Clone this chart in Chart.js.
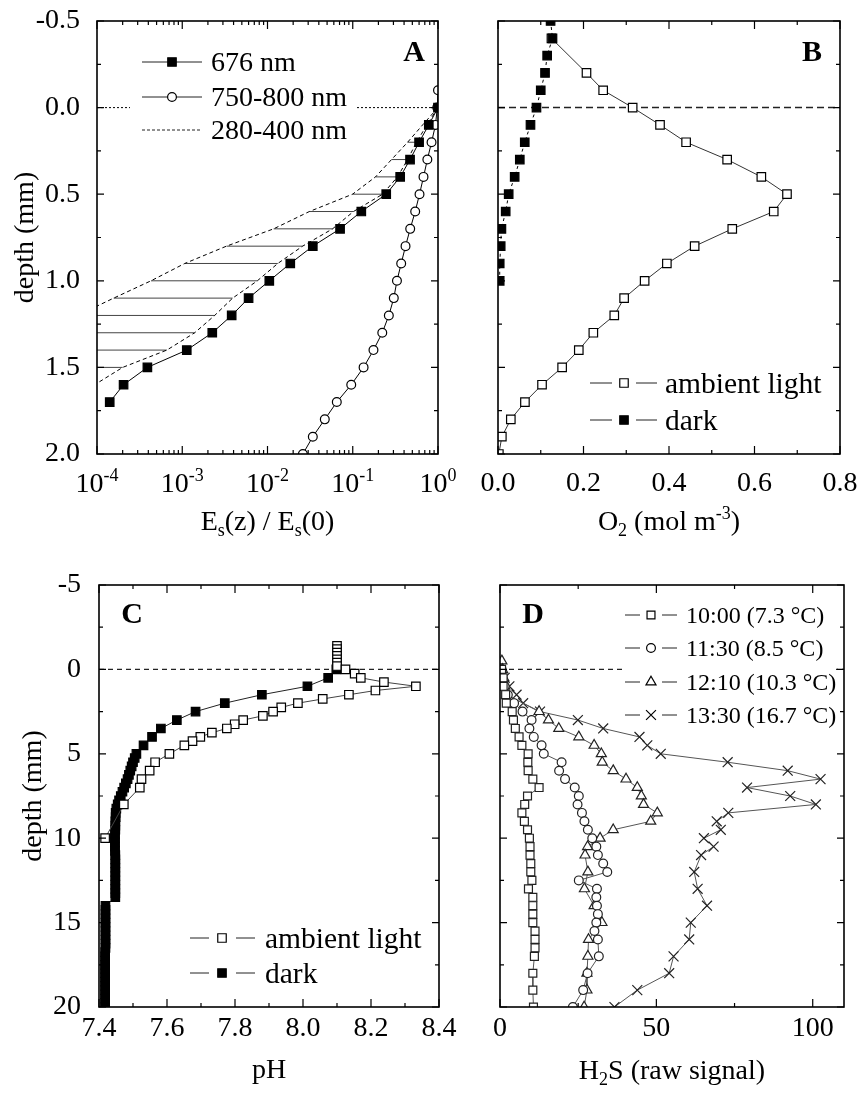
<!DOCTYPE html>
<html>
<head>
<meta charset="utf-8">
<script src="https://cdn.jsdelivr.net/npm/chart.js@4/dist/chart.umd.min.js"></script>
<style>
  html, body { margin: 0; background: #fff; }
  #fig { position: relative; width: 859px; height: 1102px; }
  #fig canvas { position: absolute; }
</style>
</head>
<body>
<div id="fig">
  <canvas id="cA" width="460" height="560" style="left:0;top:0"></canvas>
  <canvas id="cB" width="399" height="560" style="left:460px;top:0"></canvas>
  <canvas id="cC" width="460" height="542" style="left:0;top:560px"></canvas>
  <canvas id="cD" width="399" height="542" style="left:460px;top:560px"></canvas>
</div>
<script>
// ── A: spectral scalar irradiance, Es(z)/Es(0) ─────────────
const labelsA = ['676 nm', '750-800 nm', '280-400 nm'];
const depthA676 = [0.0, 0.1, 0.2, 0.3, 0.4, 0.5, 0.6, 0.7, 0.8, 0.9, 1.0, 1.1, 1.2, 1.3, 1.4, 1.5, 1.6, 1.7];
const es676 = [1.0, 0.78, 0.60, 0.47, 0.36, 0.247, 0.126, 0.071, 0.034, 0.0185, 0.0105, 0.0060, 0.0038, 0.00225, 0.00113, 0.00039, 0.000205, 0.000141];
const depthA750 = [-0.1, 0.0, 0.1, 0.2, 0.3, 0.4, 0.5, 0.6, 0.7, 0.8, 0.9, 1.0, 1.1, 1.2, 1.3, 1.4, 1.5, 1.6, 1.7, 1.8, 1.9, 2.0];
const es750 = [1.0, 0.98, 0.935, 0.84, 0.75, 0.676, 0.607, 0.54, 0.472, 0.416, 0.37, 0.33, 0.303, 0.265, 0.222, 0.175, 0.134, 0.096, 0.065, 0.047, 0.034, 0.026];
// UV band: two dashed edges, hatched between them
const depthUV = [0.0, 0.1, 0.2, 0.3, 0.4, 0.5, 0.6, 0.7, 0.8, 0.9, 1.0, 1.1, 1.2, 1.3, 1.4, 1.5, 1.6];
const uvShort = [1.0, 0.66, 0.44, 0.285, 0.185, 0.0995, 0.031, 0.0118, 0.0033, 0.00107, 0.00043, 0.000157, 0.000059, 0.000022, 0.000008, 0.000003, 0.000001];
const uvLong = [1.0, 0.74, 0.56, 0.44, 0.335, 0.224, 0.102, 0.058, 0.0258, 0.0132, 0.0076, 0.0039, 0.0024, 0.0014, 0.00066, 0.0002, 0.000094];
const HATCH_FROM = 2, HATCH_TO = 15;
const xMajorA = [1e-4, 1e-3, 1e-2, 1e-1, 1];
const yMajorAB = [-0.5, 0.0, 0.5, 1.0, 1.5, 2.0];
const yMinorAB = [-0.25, 0.25, 0.75, 1.25, 1.75];

// ── B: O2 ──────────────────────────────────────────────────
const labelsB = ['ambient light', 'dark'];
const depthBlight = [-0.4, -0.2, -0.1, 0.0, 0.1, 0.2, 0.3, 0.4, 0.5, 0.6, 0.7, 0.8, 0.9, 1.0, 1.1, 1.2, 1.3, 1.4, 1.5, 1.6, 1.7, 1.8, 1.9, 2.0];
const o2Light = [0.125, 0.207, 0.246, 0.315, 0.379, 0.440, 0.536, 0.616, 0.676, 0.645, 0.548, 0.460, 0.395, 0.343, 0.295, 0.272, 0.223, 0.189, 0.150, 0.103, 0.063, 0.030, 0.009, 0.002];
const depthBdark = [-0.5, -0.4, -0.3, -0.2, -0.1, 0.0, 0.1, 0.2, 0.3, 0.4, 0.5, 0.6, 0.7, 0.8, 0.9, 1.0];
const o2Dark = [0.123, 0.1275, 0.115, 0.110, 0.100, 0.090, 0.076, 0.0626, 0.051, 0.039, 0.025, 0.018, 0.008, 0.0063, 0.004, 0.004];
const xMajorB = [0, 0.2, 0.4, 0.6, 0.8];
const xMinorB = [0.1, 0.3, 0.5, 0.7];

// ── C: pH ──────────────────────────────────────────────────
const labelsC = ['ambient light', 'dark'];
const depthClight = [-1.4, -1.2, -1.0, -0.8, -0.6, -0.4, -0.2, 0.0, 0.25, 0.5, 0.75, 1.0, 1.25, 1.5, 1.75, 2.0, 2.25, 2.5, 2.75, 3.0, 3.25, 3.5, 3.75, 4.0, 4.25, 4.5, 5.0, 5.5, 6.0, 6.5, 7.0, 8.0, 10.0];
const phLight = [8.10, 8.10, 8.10, 8.10, 8.10, 8.10, 8.10, 8.125, 8.152, 8.17, 8.238, 8.332, 8.213, 8.135, 8.058, 7.985, 7.936, 7.912, 7.882, 7.824, 7.799, 7.776, 7.732, 7.698, 7.675, 7.651, 7.607, 7.565, 7.549, 7.525, 7.52, 7.473, 7.418];
const depthCdark = [0, 0.5, 1.0, 1.5, 2.0, 2.5, 3.0, 3.5, 4.0, 4.5,
  5.0, 5.25, 5.5, 5.75, 6.0, 6.25, 6.5, 6.75, 7.0, 7.25, 7.5, 7.75, 8.0,
  8.25, 8.5, 8.75, 9.0, 9.25, 9.5, 9.75, 10.0, 10.25, 10.5, 10.75, 11.0, 11.25, 11.5, 11.75, 12.0, 12.25, 12.5, 12.75, 13.0, 13.25, 13.5,
  14.0, 14.25, 14.5, 14.75, 15.0, 15.25, 15.5, 15.75, 16.0, 16.25, 16.5, 16.75, 17.0, 17.25, 17.5, 17.75, 18.0, 18.25, 18.5, 18.75, 19.0, 19.25, 19.5, 19.75, 20.0];
const phDark = [8.098, 8.074, 8.013, 7.879, 7.770, 7.684, 7.629, 7.582, 7.556, 7.531,
  7.510, 7.505, 7.500, 7.496, 7.492, 7.488, 7.484, 7.479, 7.474, 7.469, 7.464, 7.459, 7.455,
  7.451, 7.449, 7.449, 7.448, 7.448, 7.448, 7.447, 7.447, 7.447, 7.447, 7.447, 7.448, 7.448, 7.448, 7.448, 7.448, 7.448, 7.448, 7.448, 7.448, 7.448, 7.448,
  7.419, 7.419, 7.419, 7.419, 7.419, 7.419, 7.419, 7.419, 7.419, 7.419, 7.419, 7.418, 7.418, 7.418, 7.418, 7.418, 7.418, 7.418, 7.418, 7.418, 7.418, 7.418, 7.418, 7.418, 7.418];
const xMajorC = [7.4, 7.6, 7.8, 8.0, 8.2, 8.4];
const xMinorC = [7.5, 7.7, 7.9, 8.1, 8.3];
const yMajorCD = [-5, 0, 5, 10, 15, 20];
const yMinorCD = [-2.5, 2.5, 7.5, 12.5, 17.5];

// ── D: H2S ─────────────────────────────────────────────────
const labelsD = ['10:00 (7.3 °C)', '11:30 (8.5 °C)', '12:10 (10.3 °C)', '13:30 (16.7 °C)'];
const depthD1 = [0.0, 0.5, 1.0, 1.5, 2.0, 2.5, 3.0, 3.5, 4.0, 4.5, 5.0, 5.5, 6.0, 6.5, 7.0, 7.5, 8.0, 8.5, 9.0, 9.5, 10.0, 10.5, 11.0, 11.5, 12.0, 12.5, 13.0, 13.5, 14.0, 14.5, 15.0, 15.5, 16.0, 16.5, 17.0, 18.0, 19.0, 20.0];
const h2s1 = [0.5, 1.0, 1.0, 1.8, 2.0, 3.9, 4.3, 4.9, 6.1, 7.0, 9.0, 8.9, 9.0, 10.5, 12.5, 8.8, 7.9, 7.0, 7.8, 8.8, 9.4, 9.6, 9.6, 9.85, 9.85, 10.2, 9.1, 10.5, 10.5, 10.5, 10.5, 11.2, 11.2, 11.2, 11.0, 10.5, 10.5, 10.7];
const depthD2 = [0.0, 0.5, 1.0, 1.5, 2.0, 2.5, 3.0, 3.5, 4.0, 4.5, 5.0, 5.5, 6.0, 6.5, 7.0, 7.5, 8.0, 8.5, 9.0, 9.5, 10.0, 10.5, 11.0, 11.5, 12.0, 12.5, 13.0, 13.5, 14.0, 14.5, 15.0, 15.5, 16.0, 17.0, 18.0, 19.0, 20.0];
const h2s2 = [0.5, 0.8, 1.5, 2.5, 4.5, 7.2, 10.1, 9.4, 10.8, 13.3, 14.0, 19.7, 18.9, 20.8, 23.9, 25.2, 24.8, 26.2, 27.0, 28.1, 29.5, 30.8, 31.3, 33.0, 34.3, 25.2, 31.0, 30.8, 31.0, 31.3, 30.8, 30.2, 31.3, 31.6, 28.0, 26.6, 23.3];
const depthD3 = [-0.5, 0.0, 0.5, 1.0, 1.5, 2.5, 3.0, 3.5, 4.0, 4.5, 5.0, 5.5, 6.0, 6.5, 7.0, 7.5, 8.0, 8.5, 9.0, 9.5, 10.0, 10.5, 11.0, 12.0, 13.0, 14.0, 15.0, 16.0, 17.0, 18.0, 19.0, 20.0];
const h2s3 = [0.6, 0.8, 1.2, 1.5, 2.1, 12.5, 15.5, 18.8, 25.2, 30.1, 32.4, 32.7, 36.2, 40.3, 43.9, 45.2, 45.9, 50.3, 48.2, 36.2, 32.0, 28.0, 27.2, 28.1, 27.0, 30.1, 32.6, 28.3, 28.1, 27.8, 27.8, 26.9];
const depthD4 = [0.5, 1.0, 1.5, 2.0, 2.5, 3.0, 3.5, 4.0, 4.5, 5.0, 5.5, 6.0, 6.5, 7.0, 7.5, 8.0, 8.5, 9.0, 9.5, 10.0, 10.5, 11.0, 12.0, 13.0, 14.0, 15.0, 16.0, 17.0, 18.0, 19.0, 20.0];
const h2s4 = [1.5, 3.0, 5.3, 7.4, 12.8, 24.9, 33.0, 44.6, 47.1, 51.4, 72.8, 92.0, 102.5, 79.0, 92.8, 101.0, 73.0, 69.3, 70.6, 65.2, 68.3, 64.3, 62.1, 63.2, 66.2, 61.0, 60.5, 55.5, 54.1, 43.9, 36.6];
const xMajorD = [0, 50, 100];
const xMinorD = [25, 75];

// ── drawing helpers ────────────────────────────────────────
const SERIF = '"Liberation Serif", "Times New Roman", Times, serif';
const FS = 28;
Chart.defaults.font.family = SERIF;
Chart.defaults.font.size = FS;
Chart.defaults.color = '#000';

function pts(xs, ys) { return xs.map((x, i) => ({ x, y: ys[i] })); }

function series(data, o) {
  return Object.assign({
    data, showLine: true, borderColor: '#333', borderWidth: 1, pointRadius: 0, pointHoverRadius: 0,
    pointBorderColor: '#000', pointBorderWidth: 1.2, pointBackgroundColor: '#fff',
  }, o);
}

function toParts(t) { return typeof t === 'string' ? [[t, '']] : t; }
function fontFor(kind, size, weight) {
  const s = kind ? Math.round(size * 0.64) : size;
  return `${weight || 'normal'} ${s}px ${SERIF}`;
}
// text with sub/superscript pieces: [[text, ''|'sub'|'sup'], ...]
function drawRich(ctx, t, x, y, align, size, weight) {
  const parts = toParts(t);
  size = size || FS;
  let w = 0;
  parts.forEach(([s, k]) => { ctx.font = fontFor(k, size, weight); w += ctx.measureText(s).width; });
  let cx = align === 'center' ? x - w / 2 : align === 'right' ? x - w : x;
  ctx.textAlign = 'left';
  ctx.textBaseline = 'alphabetic';
  parts.forEach(([s, k]) => {
    ctx.font = fontFor(k, size, weight);
    ctx.fillText(s, cx, y + (k === 'sub' ? size * 0.22 : k === 'sup' ? -size * 0.4 : 0));
    cx += ctx.measureText(s).width;
  });
}

function marker(ctx, style, x, y, r, fill) {
  ctx.beginPath();
  if (style === 'rect') { const s = r * Math.SQRT1_2; ctx.rect(x - s, y - s, 2 * s, 2 * s); }
  else if (style === 'circle') ctx.arc(x, y, r, 0, Math.PI * 2);
  else if (style === 'triangle') { ctx.moveTo(x, y - r); ctx.lineTo(x + r * 0.866, y + r / 2); ctx.lineTo(x - r * 0.866, y + r / 2); ctx.closePath(); }
  else if (style === 'crossRot') { const s = r * Math.SQRT1_2; ctx.moveTo(x - s, y - s); ctx.lineTo(x + s, y + s); ctx.moveTo(x + s, y - s); ctx.lineTo(x - s, y + s); }
  if (style !== 'crossRot') { ctx.fillStyle = fill; ctx.fill(); }
  ctx.stroke();
}

// frame, inward ticks on all four sides, in-plot legend and labels
function decor(o) {
  return {
    id: 'decor',
    afterDatasetsDraw(chart) {
      const { ctx, chartArea: a } = chart;
      const xs = chart.scales.x, ys = chart.scales.y;
      ctx.save();
      if (o.box) { ctx.fillStyle = '#fff'; ctx.fillRect(o.box[0], o.box[1], o.box[2], o.box[3]); }

      ctx.strokeStyle = '#000';
      ctx.lineWidth = 1.2;
      ctx.beginPath();
      const tx = (vals, len) => (vals || []).forEach(v => {
        const p = xs.getPixelForValue(v);
        ctx.moveTo(p, a.bottom); ctx.lineTo(p, a.bottom - len);
        ctx.moveTo(p, a.top); ctx.lineTo(p, a.top + len);
      });
      const ty = (vals, len) => (vals || []).forEach(v => {
        const p = ys.getPixelForValue(v);
        ctx.moveTo(a.left, p); ctx.lineTo(a.left + len, p);
        ctx.moveTo(a.right, p); ctx.lineTo(a.right - len, p);
      });
      tx(o.xMajor, 8); tx(o.xMinor, 4); ty(o.yMajor, 7); ty(o.yMinor, 4);
      ctx.stroke();
      ctx.lineWidth = 1.6;
      ctx.strokeRect(a.left, a.top, a.right - a.left, a.bottom - a.top);

      if (o.legend) {
        const L = o.legend;
        L.rows.forEach(r => {
          ctx.strokeStyle = '#222'; ctx.lineWidth = 1; ctx.setLineDash(r.dash || []);
          ctx.beginPath();
          for (let i = 0; i + 1 < L.lx.length; i += 2) { ctx.moveTo(L.lx[i], r.y); ctx.lineTo(L.lx[i + 1], r.y); }
          ctx.stroke();
          ctx.setLineDash([]);
          if (r.style) { ctx.strokeStyle = '#000'; ctx.lineWidth = 1.2; marker(ctx, r.style, L.mx, r.y, r.r, r.fill); }
          ctx.fillStyle = '#000';
          drawRich(ctx, r.text, L.tx, r.y + Math.round((L.size || FS) * 0.33), 'left', L.size);
        });
      }

      ctx.fillStyle = '#000';
      if (o.logLabels) {
        o.xMajor.forEach(v => {
          const e = String(Math.round(Math.log10(v)));
          drawRich(ctx, [['10', ''], [e, 'sup']], xs.getPixelForValue(v), o.logLabels, 'center');
        });
      }
      (o.texts || []).forEach(t => {
        if (t.rot) {
          ctx.save(); ctx.translate(t.x, t.y); ctx.rotate(-Math.PI / 2);
          drawRich(ctx, t.t, 0, 9, 'center');
          ctx.restore();
        } else drawRich(ctx, t.t, t.x, t.y, t.align || 'center', t.size, t.weight);
      });
      ctx.restore();
    },
  };
}

function xAxis(o) {
  return Object.assign({
    type: 'linear', grid: { display: false }, border: { display: false },
    afterFit(s) { s.height = o.h; s.paddingLeft = 0; s.paddingRight = 0; },
  }, o.scale);
}
function yAxis(o) {
  return Object.assign({
    type: 'linear', reverse: true, grid: { display: false }, border: { display: false },
    afterFit(s) { s.width = o.w; s.paddingTop = 0; s.paddingBottom = 0; },
  }, o.scale);
}

function panel(id, cfg) {
  return new Chart(document.getElementById(id), {
    type: 'scatter',
    data: { datasets: cfg.datasets },
    plugins: [decor(cfg.decor)],
    options: {
      responsive: false, animation: false, events: [],
      layout: { padding: cfg.padding },
      plugins: { legend: { display: false }, tooltip: { enabled: false } },
      scales: { x: cfg.x, y: cfg.y },
    },
  });
}

const minorLog = xMajorA.slice(0, -1).flatMap(d => [2, 3, 4, 5, 6, 7, 8, 9].map(m => m * d));
const hatch = [];
for (let i = HATCH_FROM; i <= HATCH_TO; i++) {
  hatch.push({ x: uvShort[i], y: depthUV[i] }, { x: uvLong[i], y: depthUV[i] }, { x: null, y: null });
}

// ── A ──
panel('cA', {
  padding: { top: 21, right: 22, left: 0, bottom: 0 },
  x: xAxis({ h: 106, scale: { type: 'logarithmic', min: 1e-4, max: 1, ticks: { display: false } } }),
  y: yAxis({ w: 97, scale: { min: -0.5, max: 2.0, ticks: { stepSize: 0.5, padding: 9, autoSkip: false, callback: v => v.toFixed(1) } } }),
  datasets: [
    series(pts(es676, depthA676), { label: labelsA[0], borderColor: '#000', pointStyle: 'rect', pointRadius: 6, pointBackgroundColor: '#000' }),
    series(pts(es750, depthA750), { label: labelsA[1], borderColor: '#000', pointStyle: 'circle', pointRadius: 4.4 }),
    series(pts(uvLong, depthUV), { label: labelsA[2], borderColor: '#000', borderDash: [4, 3] }),
    series(pts(uvShort, depthUV), { label: labelsA[2], borderColor: '#000', borderDash: [4, 3] }),
    series(hatch, { borderColor: '#444', borderWidth: 1 }),
    series([{ x: 1e-4, y: 0 }, { x: 1, y: 0 }], { borderColor: '#000', borderDash: [2, 2] }),
  ],
  decor: {
    xMajor: xMajorA, xMinor: minorLog, yMajor: yMajorAB, yMinor: yMinorAB, logLabels: 492,
    box: [130, 44, 226, 105],
    legend: { lx: [142, 202], mx: 172, tx: 211, rows: [
      { y: 62, text: labelsA[0], style: 'rect', r: 6, fill: '#000' },
      { y: 97, text: labelsA[1], style: 'circle', r: 4.4, fill: '#fff' },
      { y: 130, text: labelsA[2], dash: [3, 2] },
    ] },
    texts: [
      { t: 'A', x: 414, y: 61, size: 30, weight: 'bold' },
      { t: [['E', ''], ['s', 'sub'], ['(z) / E', ''], ['s', 'sub'], ['(0)', '']], x: 267.5, y: 530 },
      { t: 'depth (mm)', x: 24, y: 237.5, rot: true },
    ],
  },
});

// ── B ──
panel('cB', {
  padding: { top: 21, right: 19, left: 0, bottom: 0 },
  x: xAxis({ h: 106, scale: { min: 0, max: 0.8, ticks: { stepSize: 0.2, padding: 8, autoSkip: false, maxRotation: 0, font: { size: FS, lineHeight: 1 }, callback: v => v.toFixed(1) } } }),
  y: yAxis({ w: 38, scale: { min: -0.5, max: 2.0, ticks: { display: false } } }),
  datasets: [
    series(pts(o2Dark, depthBdark), { label: labelsB[1], borderColor: '#000', borderDash: [3, 3], pointStyle: 'rect', pointRadius: 6, pointBackgroundColor: '#000' }),
    series(pts(o2Light, depthBlight), { label: labelsB[0], borderColor: '#333', pointStyle: 'rect', pointRadius: 6 }),
    series([{ x: 0, y: 0 }, { x: 0.8, y: 0 }], { borderColor: '#222', borderWidth: 1.5, borderDash: [7, 4] }),
  ],
  decor: {
    xMajor: xMajorB, xMinor: xMinorB, yMajor: yMajorAB, yMinor: yMinorAB,
    legend: { lx: [130, 152, 176, 197], mx: 164, tx: 205, size: 29.5, rows: [
      { y: 383, text: labelsB[0], style: 'rect', r: 6, fill: '#fff' },
      { y: 420, text: labelsB[1], style: 'rect', r: 6, fill: '#000' },
    ] },
    texts: [
      { t: 'B', x: 352, y: 61, size: 30, weight: 'bold' },
      { t: [['O', ''], ['2', 'sub'], [' (mol m', ''], ['-3', 'sup'], [')', '']], x: 209, y: 530 },
    ],
  },
});

// ── C ──
panel('cC', {
  padding: { top: 25, right: 21, left: 0, bottom: 0 },
  x: xAxis({ h: 95, scale: { min: 7.4, max: 8.4, ticks: { stepSize: 0.2, padding: 0, autoSkip: false, maxRotation: 0, font: { size: FS, lineHeight: 1 }, callback: v => v.toFixed(1) } } }),
  y: yAxis({ w: 99, scale: { min: -5, max: 20, ticks: { stepSize: 5, padding: 10, autoSkip: false } } }),
  datasets: [
    series(pts(phLight, depthClight), { label: labelsC[0], borderColor: '#444', pointStyle: 'rect', pointRadius: 6 }),
    series(pts(phDark, depthCdark), { label: labelsC[1], borderColor: '#222', pointStyle: 'rect', pointRadius: 6, pointBackgroundColor: '#000' }),
    series([{ x: 7.4, y: 0 }, { x: 8.4, y: 0 }], { borderColor: '#222', borderWidth: 1.3, borderDash: [5, 4] }),
  ],
  decor: {
    xMajor: xMajorC, xMinor: xMinorC, yMajor: yMajorCD, yMinor: yMinorCD,
    legend: { lx: [190, 209, 236, 255], mx: 222, tx: 265, size: 29.5, rows: [
      { y: 378, text: labelsC[0], style: 'rect', r: 6, fill: '#fff' },
      { y: 413, text: labelsC[1], style: 'rect', r: 6, fill: '#000' },
    ] },
    texts: [
      { t: 'C', x: 132, y: 63, size: 30, weight: 'bold' },
      { t: 'pH', x: 269, y: 518 },
      { t: 'depth (mm)', x: 32, y: 236, rot: true },
    ],
  },
});

// ── D ──
panel('cD', {
  padding: { top: 25, right: 15, left: 0, bottom: 0 },
  x: xAxis({ h: 95, scale: { min: 0, max: 110, ticks: { stepSize: 50, includeBounds: false, padding: 0, autoSkip: false, maxRotation: 0, font: { size: FS, lineHeight: 1 } } } }),
  y: yAxis({ w: 40, scale: { min: -5, max: 20, ticks: { display: false } } }),
  datasets: [
    series(pts(h2s1, depthD1), { label: labelsD[0], borderColor: '#555', pointStyle: 'rect', pointRadius: 5.6, pointBorderColor: '#222' }),
    series(pts(h2s2, depthD2), { label: labelsD[1], borderColor: '#555', pointStyle: 'circle', pointRadius: 4.4, pointBorderColor: '#222' }),
    series(pts(h2s3, depthD3), { label: labelsD[2], borderColor: '#555', pointStyle: 'triangle', pointRadius: 5.8, pointBorderColor: '#222' }),
    series(pts(h2s4, depthD4), { label: labelsD[3], borderColor: '#555', pointStyle: 'crossRot', pointRadius: 7, pointBorderColor: '#222' }),
    series([{ x: 0, y: 0 }, { x: 110, y: 0 }], { borderColor: '#222', borderWidth: 1.3, borderDash: [5, 4] }),
  ],
  decor: {
    xMajor: xMajorD, xMinor: xMinorD, yMajor: yMajorCD, yMinor: yMinorCD,
    box: [162, 37, 214, 131],
    legend: { lx: [165, 180, 202, 217], mx: 191, tx: 226, size: 24, rows: [
      { y: 55, text: labelsD[0], style: 'rect', r: 5.6, fill: '#fff' },
      { y: 88, text: labelsD[1], style: 'circle', r: 4.4, fill: '#fff' },
      { y: 122, text: labelsD[2], style: 'triangle', r: 5.8, fill: '#fff' },
      { y: 155, text: labelsD[3], style: 'crossRot', r: 7, fill: '#fff' },
    ] },
    texts: [
      { t: 'D', x: 73, y: 63, size: 30, weight: 'bold' },
      { t: [['H', ''], ['2', 'sub'], ['S (raw signal)', '']], x: 212, y: 519 },
    ],
  },
});
</script>
</body>
</html>
